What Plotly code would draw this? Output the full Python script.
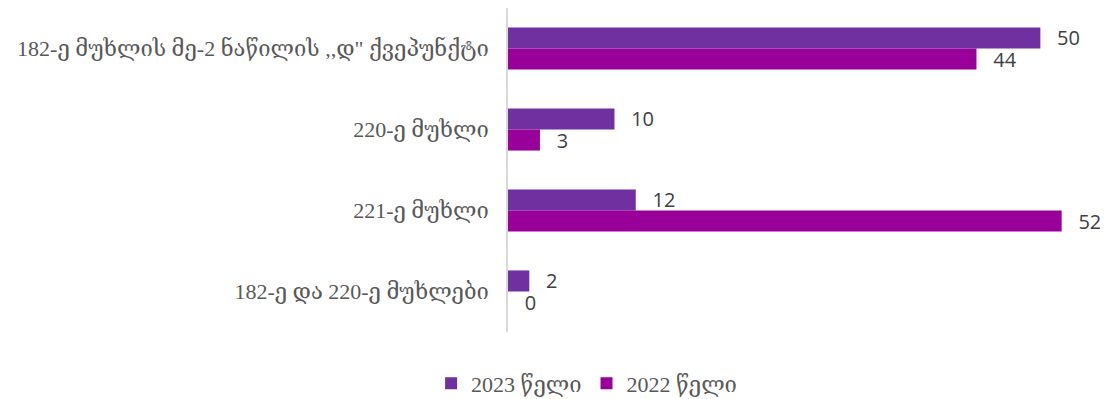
import plotly.graph_objects as go

categories = [
    "182-ე მუხლის მე-2 ნაწილის ,,დ\" ქვეპუნქტი",
    "220-ე მუხლი",
    "221-ე მუხლი",
    "182-ე და 220-ე მუხლები",
]
series_names = ["2023 წელი", "2022 წელი"]
values_2023 = [50, 10, 12, 2]
values_2022 = [44, 3, 52, 0]
colors = ["#7030A0", "#990099"]

serif = "Liberation Serif, DejaVu Serif, DejaVu Sans, serif"
sans = "Open Sans, Liberation Sans, sans-serif"

fig = go.Figure()
for name, vals, col in zip(series_names, [values_2023, values_2022], colors):
    fig.add_trace(go.Bar(
        y=categories, x=vals, name=name, orientation="h",
        marker=dict(color=col, line=dict(width=0)),
        text=vals, texttemplate="  \u2009%{x}", textposition="outside",
        constraintext="none", cliponaxis=False,
        textfont=dict(family=sans, size=20, color="#404040"),
    ))

# page has an 8px body margin, so the figure is 1100x391 placed at (8, 8)
fig.update_layout(
    width=1100, height=391,
    margin=dict(l=500, r=8, t=0, b=67, autoexpand=False),
    paper_bgcolor="white", plot_bgcolor="white",
    barmode="group", bargap=0.48, bargroupgap=0,
    showlegend=True,
    legend=dict(orientation="h", xref="container", x=0.526, xanchor="center",
                yref="container", y=0.04, yanchor="middle",
                font=dict(family=serif, size=22, color="#595959"), traceorder="normal",
                itemwidth=30),
    xaxis=dict(range=[0, 55.6], showgrid=False, zeroline=False, showticklabels=False,
               showline=False, fixedrange=True, automargin=False),
    yaxis=dict(autorange="reversed", showgrid=False, zeroline=False, showline=True,
               linecolor="#D9D9D9", linewidth=1.5, ticks="", automargin=False,
               ticklabelstandoff=13,
               tickfont=dict(family=serif, size=22, color="#595959")),
)

fig.write_html("out.html")
